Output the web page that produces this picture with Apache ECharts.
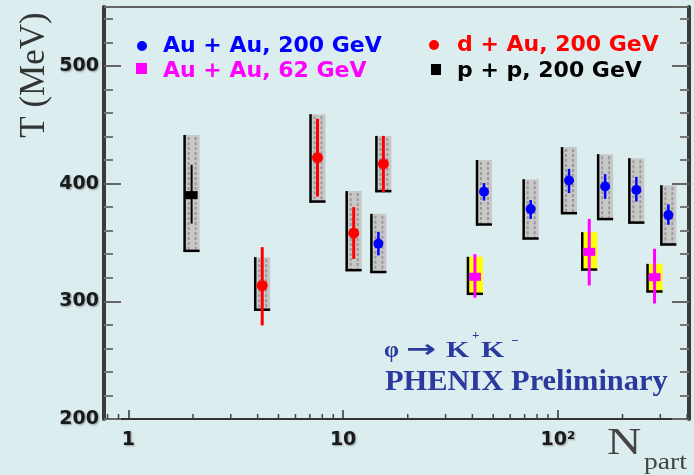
<!DOCTYPE html>
<html>
<head>
<meta charset="utf-8">
<script src="https://cdn.jsdelivr.net/npm/echarts@6/dist/echarts.min.js"></script>
<style>
html,body{margin:0;padding:0;background:#dcedef;}
#chart{width:694px;height:475px;}
</style>
</head>
<body>
<div id="chart"></div>
<script>
// ---- data (N_part, T, stat low, stat high, sys low, sys high) ----
const auau200N    = [14.6, 45.3, 74.7, 112.7, 166, 232, 327];
const auau200T    = [349, 393, 378.3, 402.6, 397.5, 394.6, 373.2];
const auau200StLo = [339, 385.6, 370, 392, 387, 384.7, 365];
const auau200StHi = [359, 400.4, 386, 412.5, 408, 405.7, 382.3];
const auau200SyLo = [324, 364.4, 352.5, 374, 369, 366, 347.4];
const auau200SyHi = [374.3, 420, 403.7, 431, 425, 421.6, 398.6];

const auau62N    = [41.1, 140, 282];
const auau62T    = [320.8, 342, 320.5];
const auau62StLo = [303, 313.4, 298.1];
const auau62StHi = [340, 370, 344.6];
const auau62SyLo = [305.5, 326.1, 307.5];
const auau62SyHi = [337.8, 358.7, 331.8];

const dauN    = [4.2, 7.6, 11.2, 15.4];
const dauT    = [313.4, 422, 357.9, 416.7];
const dauStLo = [279.5, 389, 336, 392.7];
const dauStHi = [346, 455, 380, 440.5];
const dauSyLo = [292, 383.9, 325.6, 392.7];
const dauSyHi = [337.5, 458.9, 393.6, 440.5];

const ppN    = [1.97];
const ppT    = [390.2];
const ppStLo = [366];
const ppStHi = [416];
const ppSyLo = [342];
const ppSyHi = [441.3];

const xTickValues = [1, 10, 100];
const xTickLabels = ['1', '10', '10\u00B2'];
const xMinorTicks = [0.8, 0.9, 2, 3, 4, 5, 6, 7, 8, 9, 20, 30, 40, 50, 60, 70, 80, 90, 200, 300, 400];
const yTickLabels = [200, 300, 400, 500];

const legendNames = ['Au + Au, 200 GeV', 'd + Au, 200 GeV', 'Au + Au, 62 GeV', 'p + p, 200 GeV'];

function rows(N, T, a, b, c, d) {
  return N.map((n, i) => [n, T[i], a[i], b[i], c[i], d[i]]);
}

function makeRender(st) {
  return function (params, api) {
    const x = api.value(0);
    const c = api.coord([x, api.value(1)]);
    const stLo = api.coord([x, api.value(2)])[1];
    const stHi = api.coord([x, api.value(3)])[1];
    const syLo = api.coord([x, api.value(4)])[1];
    const syHi = api.coord([x, api.value(5)])[1];
    const hw = 8;
    const ch = [];
    ch.push({type: 'rect', shape: {x: c[0] - hw, y: syHi, width: 2 * hw, height: syLo - syHi},
      style: {fill: st.boxFill}});
    if (st.dashes) {
      [-3, 4].forEach(function (dx) {
        ch.push({type: 'line', shape: {x1: c[0] + dx, y1: syHi + 2, x2: c[0] + dx, y2: syLo - 2},
          style: {stroke: '#999', lineWidth: 2, lineDash: [3, 2]}});
      });
    }
    ch.push({type: 'line', shape: {x1: c[0] - hw + 1, y1: syHi, x2: c[0] - hw + 1, y2: syLo},
      style: {stroke: '#000', lineWidth: 2.5}});
    ch.push({type: 'line', shape: {x1: c[0] - hw, y1: syLo - 1, x2: c[0] + hw, y2: syLo - 1},
      style: {stroke: '#000', lineWidth: 2.5}});
    ch.push({type: 'line', shape: {x1: c[0], y1: stHi, x2: c[0], y2: stLo},
      style: {stroke: st.color, lineWidth: st.barW}});
    if (st.marker === 'circle') {
      ch.push({type: 'circle', shape: {cx: c[0], cy: c[1], r: st.size}, style: {fill: st.color}});
    } else {
      ch.push({type: 'rect', shape: {x: c[0] - 6, y: c[1] - 4, width: 12, height: 8}, style: {fill: st.color}});
    }
    return {type: 'group', children: ch};
  };
}

const chart = echarts.init(document.getElementById('chart'), null, {renderer: 'canvas'});

const labelFont = {fontFamily: 'DejaVu Sans', fontWeight: 'bold', fontSize: 19, color: '#1a1a1a',
  textShadowColor: 'rgba(0,0,0,0.35)', textShadowBlur: 2, textShadowOffsetX: 1, textShadowOffsetY: 1};

const legendFont = 'bold 22px "DejaVu Sans"';
const serif = '"Liberation Serif", "DejaVu Serif", serif';
const annColor = '#2a3a9e';

const option = {
  animation: false,
  backgroundColor: '#dcedef',
  grid: {left: 104, right: 5, top: 7, bottom: 56, containLabel: false, outerBoundsMode: 'none'},
  xAxis: [{
    type: 'log', logBase: 10, min: 0.77, max: 408, position: 'bottom',
    axisLine: {show: true, lineStyle: {color: '#333', width: 2}},
    axisTick: {show: true, inside: true, length: 9, lineStyle: {color: '#333', width: 1.5}},
    axisLabel: Object.assign({margin: 12, showMinLabel: false, showMaxLabel: false,
      formatter: function (v) {
        for (let i = 0; i < xTickValues.length; i++) {
          if (Math.abs(Math.log10(v) - Math.log10(xTickValues[i])) < 1e-6) return xTickLabels[i];
        }
        return '';
      }}, labelFont),
    splitLine: {show: false}
  }, {
    type: 'log', logBase: 10, min: 0.77, max: 408, position: 'top',
    axisLine: {show: true, lineStyle: {color: '#333', width: 1.5}},
    axisTick: {show: false}, axisLabel: {show: false}, splitLine: {show: false}
  }],
  yAxis: [{
    type: 'value', min: 200, max: 550, interval: 100, position: 'left',
    axisLine: {show: true, lineStyle: {color: '#3a3a3a', width: 4}},
    axisTick: {show: true, inside: true, length: 17, lineStyle: {color: '#666', width: 2}},
    minorTick: {show: true, splitNumber: 5, length: 9, lineStyle: {color: '#777', width: 2}},
    axisLabel: Object.assign({margin: 5, showMaxLabel: false,
      formatter: function (v) { return yTickLabels.indexOf(v) >= 0 ? String(v) : ''; }}, labelFont),
    splitLine: {show: false}, minorSplitLine: {show: false}
  }, {
    type: 'value', min: 200, max: 550, interval: 100, position: 'right',
    axisLine: {show: true, lineStyle: {color: '#3a3a3a', width: 4}},
    axisTick: {show: true, inside: true, length: 17, lineStyle: {color: '#666', width: 2}},
    minorTick: {show: true, splitNumber: 5, length: 9, lineStyle: {color: '#777', width: 2}},
    axisLabel: {show: false}, splitLine: {show: false}, minorSplitLine: {show: false}
  }],
  series: [
    {type: 'custom', name: 'minor', data: xMinorTicks.map(v => [v]), silent: true, clip: false,
      renderItem: function (params, api) {
        const p = api.coord([api.value(0), 200]);
        return {type: 'line', shape: {x1: p[0], y1: p[1], x2: p[0], y2: p[1] - 5},
          style: {stroke: '#444', lineWidth: 1.5}};
      }},
    {type: 'custom', name: legendNames[3], data: rows(ppN, ppT, ppStLo, ppStHi, ppSyLo, ppSyHi),
      renderItem: makeRender({boxFill: '#c8c8c8', dashes: true, color: '#000', barW: 2, marker: 'rect'})},
    {type: 'custom', name: legendNames[1], data: rows(dauN, dauT, dauStLo, dauStHi, dauSyLo, dauSyHi),
      renderItem: makeRender({boxFill: '#c8c8c8', dashes: true, color: '#ff0000', barW: 3, marker: 'circle', size: 5.5})},
    {type: 'custom', name: legendNames[0], data: rows(auau200N, auau200T, auau200StLo, auau200StHi, auau200SyLo, auau200SyHi),
      renderItem: makeRender({boxFill: '#c8c8c8', dashes: true, color: '#0000ff', barW: 2.5, marker: 'circle', size: 5})},
    {type: 'custom', name: legendNames[2], data: rows(auau62N, auau62T, auau62StLo, auau62StHi, auau62SyLo, auau62SyHi),
      renderItem: makeRender({boxFill: '#ffff00', dashes: false, color: '#ff00ff', barW: 3, marker: 'rect'})}
  ],
  graphic: [
    // legend
    {type: 'circle', shape: {cx: 142, cy: 46, r: 5}, style: {fill: '#0000ff'}},
    {type: 'text', x: 163, y: 46, style: {text: legendNames[0], font: legendFont, fill: '#0000ff', textVerticalAlign: 'middle'}},
    {type: 'rect', shape: {x: 136, y: 63, width: 11, height: 11}, style: {fill: '#ff00ff'}},
    {type: 'text', x: 163, y: 71, style: {text: legendNames[2], font: legendFont, fill: '#ff00ff', textVerticalAlign: 'middle'}},
    {type: 'circle', shape: {cx: 434, cy: 45, r: 5}, style: {fill: '#ff0000'}},
    {type: 'text', x: 457, y: 45, style: {text: legendNames[1], font: legendFont, fill: '#ff0000', textVerticalAlign: 'middle'}},
    {type: 'rect', shape: {x: 431, y: 64, width: 10, height: 11}, style: {fill: '#000'}},
    {type: 'text', x: 457, y: 71, style: {text: legendNames[3], font: legendFont, fill: '#000', textVerticalAlign: 'middle'}},
    // y axis title
    {type: 'text', x: 35, y: 75, rotation: Math.PI / 2,
      style: {text: 'T (MeV)', font: '35px ' + serif, fill: '#333', textAlign: 'center', textVerticalAlign: 'middle'}},
    // x axis title
    {type: 'text', x: 607, y: 444, scaleX: 1.25,
      style: {text: 'N', font: '38px ' + serif, fill: '#444', textVerticalAlign: 'middle'}},
    {type: 'text', x: 644, y: 463, scaleX: 1.15,
      style: {text: 'part', font: '24px ' + serif, fill: '#444', textVerticalAlign: 'middle'}},
    // annotation
    {type: 'text', x: 384, y: 351, style: {text: '\u03C6', font: 'bold 24px ' + serif, fill: annColor, textVerticalAlign: 'middle'}},
    {type: 'text', x: 406, y: 351, scaleX: 1.5, style: {text: '\u2192', font: 'bold 24px "DejaVu Sans"', fill: annColor, textVerticalAlign: 'middle'}},
    {type: 'text', x: 446, y: 351, scaleX: 1.25, style: {text: 'K', font: 'bold 24px ' + serif, fill: annColor, textVerticalAlign: 'middle'}},
    {type: 'text', x: 472, y: 336, style: {text: '+', font: 'bold 13px ' + serif, fill: annColor, textVerticalAlign: 'middle'}},
    {type: 'text', x: 481, y: 351, scaleX: 1.25, style: {text: 'K', font: 'bold 24px ' + serif, fill: annColor, textVerticalAlign: 'middle'}},
    {type: 'text', x: 511, y: 342, style: {text: '\u2212', font: 'bold 13px ' + serif, fill: annColor, textVerticalAlign: 'middle'}},
    {type: 'text', x: 385, y: 383, scaleX: 1.05,
      style: {text: 'PHENIX Preliminary', font: 'bold 29px ' + serif, fill: annColor, textVerticalAlign: 'middle'}}
  ]
};
chart.setOption(option);
</script>
</body>
</html>
